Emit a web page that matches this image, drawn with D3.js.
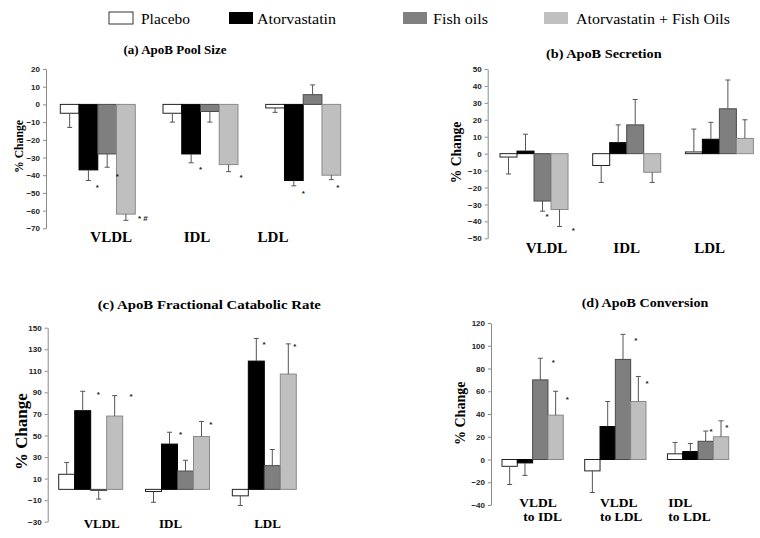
<!DOCTYPE html>
<html><head><meta charset="utf-8">
<script src="https://cdn.jsdelivr.net/npm/d3@7"></script>
<style>
html,body{margin:0;padding:0;background:#fff;}
svg{display:block;}
</style></head>
<body>
<svg id="chart" width="760" height="538"></svg>
<script>
// ---------------- DATA ----------------
const seriesNames = ["Placebo", "Atorvastatin", "Fish oils", "Atorvastatin + Fish Oils"];

// (a) ApoB Pool Size
const poolCategories = ["VLDL", "IDL", "LDL"];
const poolValues = [[-5, -37, -28, -62], [-5, -28, -4, -34], [-2, -43, 5.5, -40]];
const poolErrorEnds = [[-13, -43, -35.5, -65.5], [-10, -33, -10, -38], [-4.5, -46, 11, -42.5]];
const poolTicks = [20, 10, 0, -10, -20, -30, -40, -50, -60, -70];
const poolStars = [["VLDL", 1.97, -46, "*"], ["VLDL", 3.04, -39.5, "*"], ["VLDL", 4.4, -63.5, "* #"],
  ["IDL", 2.01, -35.4, "*"], ["IDL", 4.16, -40, "*"], ["LDL", 2.0, -49, "*"], ["LDL", 3.84, -45.7, "*"]];

// (b) ApoB Secretion
const secCategories = ["VLDL", "IDL", "LDL"];
const secValues = [[-2, 1.5, -28, -33], [-7, 6.5, 17, -11], [1, 8.5, 26.5, 9]];
const secErrorEnds = [[-12, 11.5, -34, -43], [-17, 17, 32, -17], [14.5, 18.5, 43.5, 20]];
const secTicks = [50, 40, 30, 20, 10, 0, -10, -20, -30, -40, -50];
const secStars = [["VLDL", 2.76, -35.8, "*"], ["VLDL", 4.31, -44.5, "*"]];

// (c) ApoB Fractional Catabolic Rate
const fcrCategories = ["VLDL", "IDL", "LDL"];
const fcrValues = [[14, 73, -1, 68], [-2, 42, 17, 49], [-6, 119, 22, 107]];
const fcrErrorEnds = [[25, 91, -9, 87], [-12, 53, 27, 63], [-15, 140, 37, 135]];
const fcrTicks = [150, 130, 110, 90, 70, 50, 30, 10, -10, -30];
const fcrStars = [["VLDL", 2.48, 90, "*"], ["VLDL", 4.52, 88, "*"], ["IDL", 2.19, 52.6, "*"],
  ["IDL", 4.08, 62, "*"], ["LDL", 1.98, 136.4, "*"], ["LDL", 3.9, 134, "*"]];

// (d) ApoB Conversion
const convCategories = [["VLDL", "to IDL"], ["VLDL", "to LDL"], ["IDL", "to LDL"]];
const convValues = [[-6, -3, 70, 39], [-10, 29, 88, 51], [5, 7, 16, 20]];
const convErrorEnds = [[-22, -14, 89, 60], [-29, 51, 110, 73], [15, 14, 25, 34]];
const convTicks = [120, 100, 80, 60, 40, 20, 0, -20, -40];
const convStars = [[0, 3.35, 86.6, "*"], [0, 4.26, 54.7, "*"], [1, 3.33, 106, "*"],
  [1, 4.07, 68.4, "*"], [2, 2.85, 26.2, "*"], [2, 3.87, 29.7, "*"]];

// ---------------- STYLE ----------------
const fills = ["#ffffff", "#000000", "#7f7f7f", "#bfbfbf"];
const strokes = ["#222222", "#000000", "#4a4a4a", "#8a8a8a"];
const legendFills = ["#ffffff", "#000000", "#808080", "#c0c0c0"];
const serif = "'Liberation Serif','Times New Roman',serif";
const sans = "'Liberation Sans',Arial,sans-serif";

const svg = d3.select("#chart");

// Legend
const legendLayout = [
  {bx: 109, tx: 141, tw: 49},
  {bx: 229, tx: 257, tw: 79},
  {bx: 403, tx: 433, tw: 55},
  {bx: 544, tx: 576, tw: 154}
];
const leg = svg.append("g");
seriesNames.forEach((name, i) => {
  const L = legendLayout[i];
  leg.append("rect").attr("x", L.bx).attr("y", 12).attr("width", 24).attr("height", 12)
    .attr("fill", legendFills[i])
    .attr("stroke", i === 0 ? "#333" : "none").attr("stroke-width", 1);
  leg.append("text").attr("x", L.tx).attr("y", 23.5).text(name)
    .attr("font-family", serif).attr("font-size", 15.5)
    .attr("textLength", L.tw).attr("lengthAdjust", "spacingAndGlyphs");
});

function panel(cfg) {
  const g = svg.append("g");
  const y = d3.scaleLinear().domain(cfg.yDomain).range(cfg.yRange);
  const catKeys = cfg.categories.map((c, i) => i);
  const x0 = d3.scaleBand().domain(catKeys).range(cfg.xRange).paddingInner(cfg.padInner).paddingOuter(0);
  const x1 = d3.scaleBand().domain(d3.range(seriesNames.length)).range([0, x0.bandwidth()]).padding(0);

  // axis
  const axis = d3.axisLeft(y).tickValues(cfg.ticks).tickSize(3).tickSizeOuter(0).tickPadding(3);
  const ag = g.append("g").attr("transform", `translate(${cfg.axisX},0)`).call(axis);
  ag.select(".domain").attr("stroke", "#8a8a8a");
  ag.selectAll(".tick line").attr("stroke", "#8a8a8a");
  ag.selectAll(".tick text").attr("font-family", sans).attr("font-weight", "bold")
    .attr("font-size", 8).attr("fill", "#222");

  // bars
  cfg.values.forEach((row, ci) => {
    row.forEach((v, si) => {
      const bx = x0(ci) + x1(si);
      const bw = x1.bandwidth();
      g.append("rect").attr("x", bx).attr("width", bw)
        .attr("y", Math.min(y(v), y(0))).attr("height", Math.abs(y(v) - y(0)))
        .attr("fill", fills[si]).attr("stroke", strokes[si]).attr("stroke-width", 1);
      const e = cfg.errors[ci][si];
      const cx = bx + bw / 2;
      g.append("line").attr("x1", cx).attr("x2", cx).attr("y1", y(v)).attr("y2", y(e))
        .attr("stroke", "#555").attr("stroke-width", 1);
      g.append("line").attr("x1", cx - 2.5).attr("x2", cx + 2.5).attr("y1", y(e)).attr("y2", y(e))
        .attr("stroke", "#555").attr("stroke-width", 1);
    });
  });

  // stars
  cfg.stars.forEach(s => {
    const ci = typeof s[0] === "number" ? s[0] : cfg.categories.indexOf(s[0]);
    const sx = x0(ci) + s[1] * x1.bandwidth();
    g.append("text").attr("x", sx).attr("y", y(s[2]) + 4.5).attr("text-anchor", "middle")
      .attr("font-family", sans).attr("font-weight", "bold").attr("font-size", 8).attr("fill", "#222")
      .text(s[3]);
  });

  // category labels
  cfg.categories.forEach((c, ci) => {
    const L = cfg.catLabels[ci];
    if (Array.isArray(c)) {
      const t = g.append("text").attr("font-family", serif).attr("font-weight", "bold")
        .attr("font-size", cfg.catSize).attr("text-anchor", "start");
      t.append("tspan").attr("x", x0(ci) + L[0]).attr("y", cfg.catY).text(c[0]);
      t.append("tspan").attr("x", x0(ci) + L[1]).attr("y", cfg.catY2).text(c[1]);
    } else {
      g.append("text").attr("x", x0(ci) + x0.bandwidth() / 2 + L).attr("y", cfg.catY)
        .attr("text-anchor", "middle").attr("font-family", serif).attr("font-weight", "bold")
        .attr("font-size", cfg.catSize).text(c);
    }
  });

  // title
  g.append("text").attr("x", cfg.title.x).attr("y", cfg.title.y).attr("text-anchor", "middle")
    .attr("font-family", serif).attr("font-weight", "bold").attr("font-size", cfg.title.size)
    .attr("textLength", cfg.title.w).attr("lengthAdjust", "spacingAndGlyphs").text(cfg.title.text);

  // y title
  g.append("text").attr("transform", `translate(${cfg.yTitle.x},${cfg.yTitle.y}) rotate(-90)`)
    .attr("text-anchor", "middle").attr("font-family", serif).attr("font-weight", "bold")
    .attr("font-size", cfg.yTitle.size).attr("textLength", cfg.yTitle.w)
    .attr("lengthAdjust", "spacingAndGlyphs").text("% Change");
}

panel({
  categories: poolCategories, values: poolValues, errors: poolErrorEnds, ticks: poolTicks, stars: poolStars,
  yDomain: [-70, 20], yRange: [228.3, 69], xRange: [60.3, 340.7], padInner: 0.27, axisX: 46,
  catLabels: [13.4, -3.5, -30.2], catY: 241.7, catSize: 15,
  title: {text: "(a) ApoB Pool Size", x: 175, y: 53.5, size: 12, w: 103},
  yTitle: {x: 22.5, y: 146.5, size: 13, w: 53}
});
panel({
  categories: secCategories, values: secValues, errors: secErrorEnds, ticks: secTicks, stars: secStars,
  yDomain: [-50, 50], yRange: [238.3, 69], xRange: [500, 753.4], padInner: 0.266, axisX: 487.7,
  catLabels: [12.5, 0, -9.7], catY: 253.3, catSize: 15,
  title: {text: "(b) ApoB Secretion", x: 603.8, y: 58.3, size: 13.5, w: 115.7},
  yTitle: {x: 460.5, y: 152.5, size: 14, w: 61.7}
});
panel({
  categories: fcrCategories, values: fcrValues, errors: fcrErrorEnds, ticks: fcrTicks, stars: fcrStars,
  yDomain: [-30, 150], yRange: [521.7, 327.7], xRange: [58.7, 296.3], padInner: 0.263, axisX: 47.7,
  catLabels: [11, -7, 3.2], catY: 528.3, catSize: 13,
  title: {text: "(c) ApoB Fractional Catabolic Rate", x: 209.3, y: 309.3, size: 12.5, w: 223.3},
  yTitle: {x: 26.8, y: 431.7, size: 17, w: 76.7}
});
panel({
  categories: convCategories, values: convValues, errors: convErrorEnds, ticks: convTicks, stars: convStars,
  yDomain: [-40, 120], yRange: [505, 323], xRange: [502, 728.7], padInner: 0.259, axisX: 491,
  catLabels: [[17.3, 21.3], [15.3, 15.3], [0.9, 0.9]], catY: 506.7, catY2: 520.7, catSize: 13.5,
  title: {text: "(d) ApoB Conversion", x: 645, y: 306.7, size: 13, w: 126.6},
  yTitle: {x: 465.3, y: 413.3, size: 14.5, w: 63.3}
});
</script>
</body></html>
